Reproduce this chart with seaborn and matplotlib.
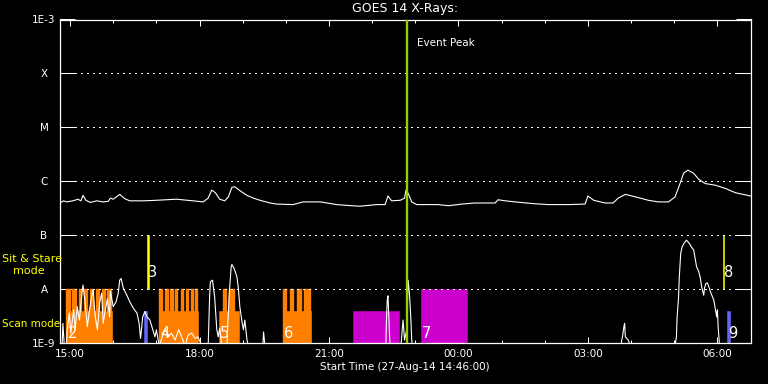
import numpy as np
import pandas as pd
import seaborn as sns
import matplotlib.pyplot as plt
import matplotlib.dates as mdates
from matplotlib.ticker import FixedLocator, NullLocator

sns.set_theme(style='dark', rc={
    'figure.facecolor': 'black',
    'axes.facecolor': 'black',
    'savefig.facecolor': 'black',
    'axes.edgecolor': 'white',
    'axes.grid': False,
    'text.color': 'white',
    'axes.labelcolor': 'white',
    'xtick.color': 'white',
    'ytick.color': 'white',
})
plt.rcParams['font.family'] = ['DejaVu Sans']

# %% Data (times on 27/28-Aug-2014, flux as log10 W/m^2)

DAY = '2014-08-27'
t_start, t_end = '14:46', '06:46'
event_peak = '22:48'

long_time = [
    '14:46', '14:51', '14:55', '15:04', '15:11', '15:15', '15:18', '15:22', '15:28', '15:37',
    '15:46', '15:53', '15:56', '16:00', '16:09', '16:16', '16:23', '16:42', '17:00', '17:28',
    '17:51', '18:05', '18:12', '18:17', '18:22', '18:28', '18:35', '18:40', '18:45', '18:49',
    '18:56', '19:06', '19:15', '19:24', '19:38', '19:47', '20:10', '20:24', '20:34', '20:48',
    '20:57', '21:11', '21:20', '21:43', '22:06', '22:18', '22:22', '22:27', '22:39', '22:45',
    '22:47', '22:50', '22:55', '23:02', '23:32', '23:46', '00:05', '00:23', '00:51', '00:55',
    '01:05', '01:19', '01:42', '02:05', '02:33', '02:56', '03:00', '03:08', '03:24', '03:35',
    '03:42', '03:52', '04:01', '04:10', '04:24', '04:38', '04:52', '05:01', '05:08', '05:13',
    '05:19', '05:27', '05:34', '05:43', '05:57', '06:11', '06:25', '06:39', '06:46',
]
long_flux = [
    -6.40, -6.36, -6.38, -6.36, -6.33, -6.36, -6.26, -6.35, -6.39, -6.36,
    -6.38, -6.37, -6.31, -6.33, -6.24, -6.32, -6.36, -6.36, -6.35, -6.33,
    -6.36, -6.38, -6.31, -6.16, -6.21, -6.33, -6.36, -6.29, -6.11, -6.10,
    -6.17, -6.26, -6.31, -6.35, -6.40, -6.42, -6.43, -6.38, -6.38, -6.38,
    -6.40, -6.43, -6.44, -6.46, -6.43, -6.43, -6.27, -6.36, -6.35, -6.31,
    -6.16, -6.22, -6.38, -6.43, -6.43, -6.45, -6.42, -6.40, -6.40, -6.34,
    -6.36, -6.38, -6.41, -6.43, -6.43, -6.42, -6.27, -6.35, -6.40, -6.40,
    -6.31, -6.24, -6.27, -6.30, -6.35, -6.38, -6.38, -6.29, -6.04, -5.85,
    -5.79, -5.85, -5.96, -6.04, -6.07, -6.13, -6.21, -6.25, -6.27,
]

short_time = [
    '14:46', '14:49', '14:50', '14:52', '14:55', '14:56', '14:59', '15:01', '15:05', '15:07',
    '15:10', '15:13', '15:16', '15:18', '15:21', '15:24', '15:27', '15:30', '15:32', '15:35',
    '15:38', '15:41', '15:44', '15:46', '15:49', '15:52', '15:55', '15:56', '16:00', '16:04',
    '16:07', '16:09', '16:11', '16:14', '16:19', '16:23', '16:28', '16:33', '16:36', '16:38',
    '16:41', '16:44', '16:47', '16:51', '16:55', '16:58', '17:00', '17:04', '17:10', '17:13',
    '17:17', '17:21', '17:26', '17:31', '17:35', '17:40', '17:44', '17:49', '17:54', '17:58',
    '18:03', '18:12', '18:14', '18:15', '18:18', '18:21', '18:24', '18:26', '18:28', '18:31',
    '18:38', '18:41', '18:44', '18:45', '18:48', '18:52', '18:54', '18:56', '18:59', '19:01',
    '19:03', '19:06', '19:08', '19:28', '19:29', '19:31', '22:19', '22:20', '22:21', '22:22',
    '22:24', '22:25', '22:40', '22:41', '22:42', '22:43', '22:45', '22:48', '22:50', '22:52',
    '22:54', '22:55', '22:56', '03:46', '03:47', '03:48', '03:50', '03:51', '03:52', '03:54',
    '03:56', '03:59', '05:01', '05:03', '05:04', '05:06', '05:07', '05:09', '05:11', '05:14',
    '05:17', '05:21', '05:24', '05:27', '05:29', '05:31', '05:34', '05:36', '05:38', '05:41',
    '05:42', '05:44', '05:46', '05:48', '05:51', '05:55', '05:57', '05:59', '06:00', '06:01',
    '06:03', '06:46',
]
short_flux = [
    -9.05, -9.05, -8.63, -9.05, -9.05, -8.75, -8.44, -8.81, -8.38, -8.75,
    -8.32, -8.57, -8.14, -7.92, -8.26, -8.69, -8.38, -8.14, -8.01, -8.51,
    -8.75, -8.26, -8.07, -8.63, -8.38, -8.17, -8.51, -8.04, -8.32, -8.23,
    -8.07, -7.83, -7.80, -7.98, -8.11, -8.23, -8.35, -8.44, -8.63, -8.91,
    -8.51, -8.41, -8.51, -8.57, -8.75, -8.88, -8.75, -9.05, -8.81, -8.75,
    -8.88, -8.81, -8.94, -8.75, -8.88, -9.05, -8.85, -8.81, -8.91, -8.88,
    -9.05, -9.05, -8.14, -7.86, -7.83, -8.14, -8.75, -8.88, -8.72, -9.05,
    -9.05, -8.14, -7.58, -7.54, -7.61, -7.77, -7.98, -8.32, -8.60, -8.75,
    -8.57, -8.94, -9.05, -9.05, -8.79, -9.05, -9.05, -8.51, -8.20, -8.12,
    -8.81, -9.05, -9.05, -8.88, -8.72, -8.57, -8.94, -8.75, -7.83, -8.11,
    -8.60, -8.94, -9.05, -9.05, -8.94, -8.88, -8.69, -8.63, -8.88, -8.91,
    -8.94, -9.05, -9.05, -8.88, -8.51, -8.14, -7.77, -7.33, -7.21, -7.14,
    -7.09, -7.15, -7.22, -7.27, -7.43, -7.58, -7.67, -7.77, -7.95, -8.11,
    -7.98, -7.89, -7.88, -7.95, -8.07, -8.20, -8.35, -8.51, -8.38, -8.69,
    -9.05, -9.05,
]

# observation events
event_start = ['14:55', '16:43', '16:47', '17:04', '18:27', '19:56', '21:33', '23:08', '06:08', '06:14']
event_end = ['15:58', '16:47', '16:50', '17:58', '18:55', '20:35', '22:37', '00:12', '06:09', '06:17']
event_kind = ['scan', 'blue', 'stare', 'scan', 'scan', 'scan', 'magenta', 'magenta', 'stare', 'blue']
event_top = [-8.4, -8.4, -7.0, -8.4, -8.4, -8.4, -8.4, -8.0, -7.0, -8.4]
event_label = ['2', '', '3', '4', '5', '6', '', '7', '8', '9']

# individual raster scans inside the scan-mode blocks
raster_start = ['14:55', '15:03', '15:12', '15:20', '15:28', '15:36', '15:44', '15:52',
                '17:04', '17:12', '17:19', '17:26', '17:34', '17:41', '17:48', '17:54',
                '18:32', '18:41',
                '19:56', '20:06', '20:16', '20:25']
raster_end = ['15:01', '15:09', '15:17', '15:25', '15:33', '15:42', '15:50', '15:58',
              '17:09', '17:17', '17:24', '17:30', '17:38', '17:45', '17:52', '17:58',
              '18:38', '18:49',
              '20:02', '20:12', '20:22', '20:35']

kind_color = {'scan': '#ff8000', 'blue': '#6464ff', 'stare': '#ffff00', 'magenta': '#cc00cc'}


def to_time(s):
    ts = pd.Timestamp(f'{DAY} {s}')
    return ts + pd.Timedelta(days=1) if ts.hour < 14 else ts


long_df = pd.DataFrame({'Time': [to_time(t) for t in long_time], 'Flux': 10.0 ** np.array(long_flux)})
short_df = pd.DataFrame({'Time': [to_time(t) for t in short_time], 'Flux': 10.0 ** np.array(short_flux)})

# %% Plot

fig = plt.figure(figsize=(7.68, 3.84), dpi=100)
ax = fig.add_axes([60 / 768, (384 - 343.3) / 384, 690.5 / 768, 323.8 / 384])
ax.set_yscale('log')

# event blocks
for s, e, kind, top in zip(event_start, event_end, event_kind, event_top):
    x0, x1 = mdates.date2num(to_time(s)), mdates.date2num(to_time(e))
    bottom = 1e-8 if kind == 'stare' else 1e-9
    ax.bar(x0, 10 ** top - bottom, width=x1 - x0, bottom=bottom, align='edge',
           color=kind_color[kind], edgecolor=kind_color[kind], linewidth=0.4, zorder=1)

for s, e in zip(raster_start, raster_end):
    x0, x1 = mdates.date2num(to_time(s)), mdates.date2num(to_time(e))
    ax.bar(x0, 1e-8 - 1e-9, width=x1 - x0, bottom=1e-9, align='edge',
           color=kind_color['scan'], edgecolor=kind_color['scan'], linewidth=0.3, zorder=1)

# dotted class levels
for lv in [1e-8, 1e-7, 1e-6, 1e-5, 1e-4]:
    ax.axhline(lv, xmin=0.0217, xmax=0.979, color='white', lw=0.75,
               ls=(0, (1, 4.76)), antialiased=False, zorder=2)

sns.lineplot(data=long_df, x='Time', y='Flux', ax=ax, color='white', lw=0.8,
             estimator=None, sort=False, zorder=3)
sns.lineplot(data=short_df, x='Time', y='Flux', ax=ax, color='white', lw=0.8,
             estimator=None, sort=False, zorder=3)

# event labels
for s, kind, lbl in zip(event_start, event_kind, event_label):
    if not lbl:
        continue
    ylab = 10 ** -7.69 if kind == 'stare' else 10 ** -8.81
    ax.annotate(lbl, xy=(mdates.date2num(to_time(s)), ylab), xytext=(0.8, 0),
                textcoords='offset points', ha='left', va='center',
                fontsize=10.5, color='white', zorder=4)

# event peak
peak_x = mdates.date2num(to_time(event_peak))
ax.axvline(peak_x, color='#9acd00', lw=1.7, zorder=5)
ax.annotate('Event Peak', xy=(peak_x, 10 ** -3.43), xytext=(7.5, 0),
            textcoords='offset points', ha='left', va='center', fontsize=7.5, color='white')

# axes
ax.set_xlim(mdates.date2num(to_time(t_start)), mdates.date2num(to_time(t_end)))
ax.set_ylim(1e-9, 1e-3)

ax.yaxis.set_major_locator(FixedLocator([1e-9, 1e-8, 1e-7, 1e-6, 1e-5, 1e-4, 1e-3]))
ax.yaxis.set_minor_locator(NullLocator())
ylabels = ax.set_yticklabels(['1E-9', 'A', 'B', 'C', 'M', 'X', '1E-3'], fontsize=7.5)
for lbl in ylabels:
    lbl.set_ha('center')
ax.tick_params(axis='y', which='major', direction='in', length=10.8, width=0.75,
               left=True, right=True, pad=11.5)

ax.xaxis.set_major_locator(mdates.HourLocator(byhour=range(0, 24, 3)))
ax.xaxis.set_minor_locator(mdates.HourLocator())
ax.xaxis.set_major_formatter(mdates.DateFormatter('%H:%M'))
ax.tick_params(axis='x', which='major', direction='in', length=4.5, width=0.75,
               top=True, bottom=True, labelsize=7.5, pad=4)
ax.tick_params(axis='x', which='minor', direction='in', length=2.2, width=0.75,
               top=True, bottom=True)

ax.set_xlabel('Start Time (27-Aug-14 14:46:00)', fontsize=7.5, labelpad=2)
ax.set_ylabel('')
ax.set_title('GOES 14 X-Rays:', fontsize=9, color='white', pad=5.5)

for sp in ax.spines.values():
    sp.set_color('white')
    sp.set_linewidth(0.9)

# mode labels on the left
fig.text(2 / 768, 1 - 259 / 384, 'Sit & Stare', color='yellow', fontsize=8, ha='left', va='center')
fig.text(13 / 768, 1 - 271 / 384, 'mode', color='yellow', fontsize=8, ha='left', va='center')
fig.text(2 / 768, 1 - 324 / 384, 'Scan mode', color='yellow', fontsize=7.5, ha='left', va='center')

fig.savefig('out.png', dpi=100, facecolor='black')
